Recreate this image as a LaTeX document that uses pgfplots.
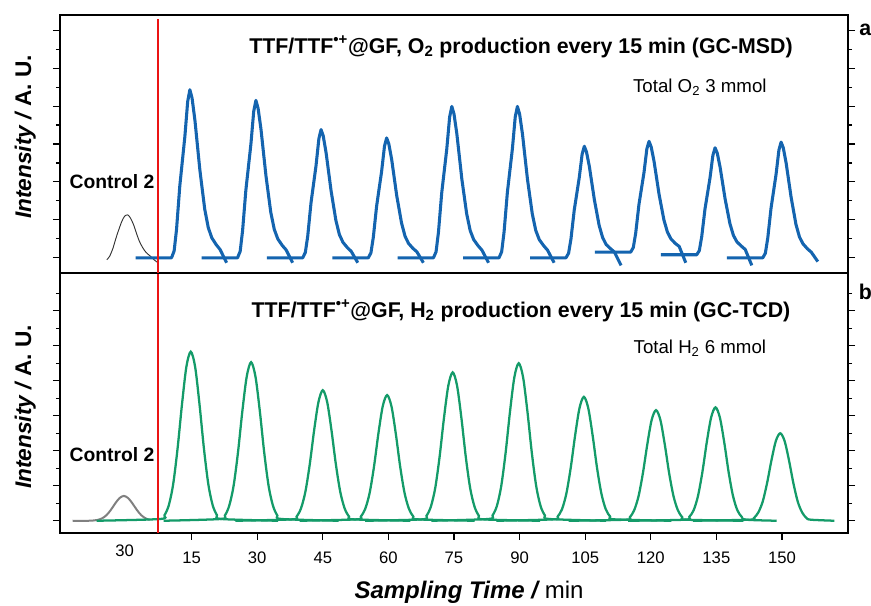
\documentclass[border=0pt]{standalone}
\usepackage{fontspec}
\setmainfont{Liberation Sans}
\usepackage{pgfplots}
\pgfplotsset{compat=1.18}
\definecolor{o2blue}{RGB}{20,100,175}
\definecolor{h2green}{RGB}{20,155,105}
\definecolor{ctrlgray}{RGB}{128,128,128}
\definecolor{redline}{RGB}{235,20,20}

\begin{document}
\begin{tikzpicture}
\pgfplotsset{
  panel/.style={
    scale only axis, width=591pt, xmin=-15.1, xmax=165.1,
    clip mode=individual,
    tick align=outside, ytick pos=both, yticklabels={},
    major tick length=5.25pt, minor tick length=3pt,
    axis line style={line width=0.9pt}, tick style={line width=0.8pt, black},
  },
  blue trace/.style={o2blue, line width=2.3pt, line join=round},
  green trace/.style={h2green, line width=1.7pt, smooth},
}
\path[use as bounding box] (-45pt,-54.75pt) rectangle (608.25pt,399.75pt);

% ---------- bottom panel: H2 (GC-TCD) ----------
\begin{axis}[panel, at={(0,0)}, height=195pt,
  ymin=-0.35, ymax=7.08,
  ytick={0,...,6}, minor ytick={0.5,1.5,...,6.5},
  xtick={15,30,...,150}, xticklabels={15,30,45,60,75,90,105,120,135,150},
  extra x ticks={-0.3}, extra x tick labels={30},
  extra x tick style={major tick length=0pt},
  xtick pos=bottom,
  xticklabel style={font=\fontsize{12.5}{14}\selectfont, yshift=-5.5pt},
  ]
  \addplot[ctrlgray, line width=1.5pt, smooth] coordinates {
    (-12.2,0) (-8.5,0) (-7.5,0.007) (-6.5,0.023) (-5.5,0.067) (-4.5,0.156)
    (-3.5,0.305) (-2.5,0.49) (-1.5,0.646) (-0.5,0.71) (0.5,0.646) (1.5,0.49)
    (2.5,0.305) (3.5,0.156) (4.5,0.067) (5.4,0.025)};
  \addplot[green trace] coordinates {
    (-6.7,0) (7.8,0.05) (8.8,0.16) (9.8,0.45) (10.8,1.06) (11.8,2.08) (12.8,3.33) (13.8,4.40)
    (14.8,4.83) (15.8,4.40) (16.8,3.33) (17.8,2.08) (18.8,1.06) (19.8,0.45) (20.8,0.16) (21.8,0.05) (34.8,0)};
  \addplot[green trace] coordinates {
    (8.6,0) (21.6,0.05) (22.6,0.15) (23.6,0.43) (24.6,1.00) (25.6,1.95) (26.6,3.13) (27.6,4.12)
    (28.6,4.53) (29.6,4.12) (30.6,3.13) (31.6,1.95) (32.6,1.00) (33.6,0.43) (34.6,0.15) (35.6,0.05) (48.6,0)};
  \addplot[green trace] coordinates {
    (25,0) (38,0.04) (39,0.12) (40,0.35) (41,0.82) (42,1.60) (43,2.57) (44,3.39)
    (45,3.73) (46,3.39) (47,2.57) (48,1.60) (49,0.82) (50,0.35) (51,0.12) (52,0.04) (65,0)};
  \addplot[green trace] coordinates {
    (39.7,0) (52.7,0.04) (53.7,0.12) (54.7,0.34) (55.7,0.79) (56.7,1.54) (57.7,2.48) (58.7,3.27)
    (59.7,3.59) (60.7,3.27) (61.7,2.48) (62.7,1.54) (63.7,0.79) (64.7,0.34) (65.7,0.12) (66.7,0.04) (79.7,0)};
  \addplot[green trace] coordinates {
    (54.7,0) (67.7,0.04) (68.7,0.14) (69.7,0.40) (70.7,0.93) (71.7,1.82) (72.7,2.93) (73.7,3.86)
    (74.7,4.24) (75.7,3.86) (76.7,2.93) (77.7,1.82) (78.7,0.93) (79.7,0.40) (80.7,0.14) (81.7,0.04) (94.7,0)};
  \addplot[green trace] coordinates {
    (69.8,0) (82.8,0.05) (83.8,0.15) (84.8,0.42) (85.8,0.99) (86.8,1.94) (87.8,3.11) (88.8,4.10)
    (89.8,4.50) (90.8,4.10) (91.8,3.11) (92.8,1.94) (93.8,0.99) (94.8,0.42) (95.8,0.15) (96.8,0.05) (109.8,0)};
  \addplot[green trace] coordinates {
    (84.7,0) (97.7,0.04) (98.7,0.12) (99.7,0.33) (100.7,0.78) (101.7,1.52) (102.7,2.44) (103.7,3.22)
    (104.7,3.54) (105.7,3.22) (106.7,2.44) (107.7,1.52) (108.7,0.78) (109.7,0.33) (110.7,0.12) (111.7,0.04) (124.7,0)};
  \addplot[green trace] coordinates {
    (101.2,0) (114.2,0.03) (115.2,0.10) (116.2,0.30) (117.2,0.70) (118.2,1.36) (119.2,2.18) (120.2,2.88)
    (121.2,3.16) (122.2,2.88) (123.2,2.18) (124.2,1.36) (125.2,0.70) (126.2,0.30) (127.2,0.10) (128.2,0.03) (141.2,0)};
  \addplot[green trace] coordinates {
    (114.8,0) (127.8,0.03) (128.8,0.11) (129.8,0.30) (130.8,0.71) (131.8,1.39) (132.8,2.24) (133.8,2.95)
    (134.8,3.24) (135.8,2.95) (136.8,2.24) (137.8,1.39) (138.8,0.71) (139.8,0.30) (140.8,0.11) (141.8,0.03) (148.8,0)};
  \addplot[green trace] coordinates {
    (129.6,0) (142.6,0.03) (143.6,0.08) (144.6,0.24) (145.6,0.55) (146.6,1.08) (147.6,1.73) (148.6,2.28)
    (149.6,2.50) (150.6,2.28) (151.6,1.73) (152.6,1.08) (153.6,0.55) (154.6,0.24) (155.6,0.08) (156.6,0.03) (162.0,0)};
  \addplot[redline, line width=2pt] coordinates {(7.3,-0.35) (7.3,7.08)};

  \node[font=\fontsize{16}{19}\selectfont\bfseries] at (rel axis cs:0.585,0.854)
    {TTF/TTF\textsuperscript{•+}@GF, H\textsubscript{2} production every 15 min (GC-TCD)};
  \node[font=\fontsize{14}{17}\selectfont] at (rel axis cs:0.812,0.712) {Total H\textsubscript{2} 6 mmol};
  \node[font=\fontsize{14.5}{17}\selectfont\bfseries] at (rel axis cs:0.066,0.30) {Control 2};
  \node[font=\fontsize{16}{19}\selectfont\bfseries] at (rel axis cs:1.022,0.927) {b};
  \node[font=\fontsize{17}{20}\selectfont\bfseries, rotate=90] at (rel axis cs:-0.044,0.485)
    {\itshape Intensity / \upshape A. U.};
  \node[font=\fontsize{18}{21}\selectfont] at (rel axis cs:0.519,-0.227)
    {\bfseries\itshape Sampling Time / \mdseries\upshape min};
\end{axis}

% ---------- top panel: O2 (GC-MSD) ----------
\begin{axis}[panel, at={(0,195pt)}, height=193.5pt,
  ymin=-0.4, ymax=6.4,
  ytick={0,...,6}, minor ytick={0.5,1.5,...,5.5},
  xtick=\empty,
  ]
  \addplot[black!80, line width=0.7pt, smooth] coordinates {
    (-4.4,-0.05) (-3.75,0.04) (-3.0,0.25) (-2.4,0.48) (-1.9,0.66) (-1.0,0.95) (-0.3,1.10)
    (0.4,1.13) (1.0,1.05) (1.7,0.88) (2.35,0.66) (3.0,0.45) (3.8,0.27) (4.6,0.14)
    (5.6,0.04) (6.5,-0.06) (7.2,-0.12)};
  \addplot[blue trace] coordinates {
    (2.2,0) (10.4,0) (11.0,0.18) (11.55,0.75) (12.3,1.90) (13.45,3.19) (14.1,4.12) (14.6,4.43)
    (15.1,4.21) (15.75,3.63) (16.9,2.30) (18.0,1.28) (18.8,0.80) (19.6,0.53) (20.6,0.35) (21.5,0.22) (23.0,-0.13)};
  \addplot[blue trace] coordinates {
    (17.3,0) (25.5,0) (26.1,0.17) (26.65,0.71) (27.4,1.78) (28.55,2.99) (29.2,3.86) (29.7,4.15)
    (30.2,3.94) (30.85,3.40) (32.0,2.16) (33.1,1.20) (33.9,0.75) (34.7,0.50) (35.7,0.33) (36.6,0.21) (38.1,-0.13)};
  \addplot[blue trace] coordinates {
    (32.2,0) (40.4,0) (41.0,0.14) (41.55,0.57) (42.3,1.45) (43.45,2.43) (44.1,3.14) (44.6,3.38)
    (45.1,3.21) (45.75,2.77) (46.9,1.76) (48.0,0.98) (48.8,0.61) (49.6,0.41) (50.6,0.27) (51.5,0.17) (53.0,-0.13)};
  \addplot[blue trace] coordinates {
    (47.2,0) (55.4,0) (56.0,0.13) (56.55,0.54) (57.3,1.36) (58.45,2.28) (59.1,2.94) (59.6,3.16)
    (60.1,3.00) (60.75,2.59) (61.9,1.64) (63.0,0.92) (63.8,0.57) (64.6,0.38) (65.6,0.25) (66.5,0.16) (68.0,-0.13)};
  \addplot[blue trace] coordinates {
    (62.1,0) (70.3,0) (70.9,0.16) (71.45,0.68) (72.2,1.72) (73.35,2.87) (74.0,3.71) (74.5,3.99)
    (75.0,3.79) (75.65,3.27) (76.8,2.07) (77.9,1.16) (78.7,0.72) (79.5,0.48) (80.5,0.32) (81.4,0.20) (82.9,-0.13)};
  \addplot[blue trace] coordinates {
    (77.1,0) (85.3,0) (85.9,0.16) (86.45,0.68) (87.2,1.72) (88.35,2.87) (89.0,3.71) (89.5,3.99)
    (90.0,3.79) (90.65,3.27) (91.8,2.07) (92.9,1.16) (93.7,0.72) (94.5,0.48) (95.5,0.32) (96.4,0.20) (97.9,-0.13)};
  \addplot[blue trace] coordinates {
    (92.4,0) (100.6,0) (101.2,0.12) (101.75,0.50) (102.5,1.26) (103.65,2.12) (104.3,2.73) (104.8,2.94)
    (105.3,2.79) (105.95,2.41) (107.1,1.53) (108.2,0.85) (109.0,0.53) (109.8,0.35) (110.8,0.24) (111.7,0.15) (113.2,-0.2)};
  \addplot[blue trace] coordinates {
    (107.2,0.15) (115.4,0.15) (116.0,0.27) (116.55,0.65) (117.3,1.41) (118.45,2.25) (119.1,2.87) (119.6,3.07)
    (120.1,2.92) (120.75,2.54) (121.9,1.67) (123.0,1.00) (123.8,0.68) (124.6,0.50) (125.6,0.38) (126.5,0.30) (128.0,-0.13)};
  \addplot[blue trace] coordinates {
    (122.3,0.08) (130.5,0.08) (131.1,0.19) (131.65,0.56) (132.4,1.29) (133.55,2.11) (134.2,2.70) (134.7,2.90)
    (135.2,2.76) (135.85,2.39) (137.0,1.55) (138.1,0.90) (138.9,0.59) (139.7,0.42) (140.7,0.31) (141.6,0.22) (143.1,-0.2)};
  \addplot[blue trace] coordinates {
    (137.4,0) (145.6,0) (146.2,0.12) (146.75,0.52) (147.5,1.31) (148.65,2.20) (149.3,2.84) (149.8,3.05)
    (150.3,2.90) (150.95,2.50) (152.1,1.59) (153.2,0.88) (154.0,0.55) (154.8,0.37) (155.8,0.24) (156.7,0.15) (158.2,-0.1)};
  \addplot[redline, line width=2pt] coordinates {(7.3,-0.4) (7.3,6.3)};

  \node[font=\fontsize{16}{19}\selectfont\bfseries] at (rel axis cs:0.585,0.876)
    {TTF/TTF\textsuperscript{•+}@GF, O\textsubscript{2} production every 15 min (GC-MSD)};
  \node[font=\fontsize{14}{17}\selectfont] at (rel axis cs:0.812,0.721) {Total O\textsubscript{2} 3 mmol};
  \node[font=\fontsize{14.5}{17}\selectfont\bfseries] at (rel axis cs:0.066,0.353) {Control 2};
  \node[font=\fontsize{16}{19}\selectfont\bfseries] at (rel axis cs:1.022,0.942) {a};
  \node[font=\fontsize{17}{20}\selectfont\bfseries, rotate=90] at (rel axis cs:-0.044,0.527)
    {\itshape Intensity / \upshape A. U.};
\end{axis}
\end{tikzpicture}
\end{document}
